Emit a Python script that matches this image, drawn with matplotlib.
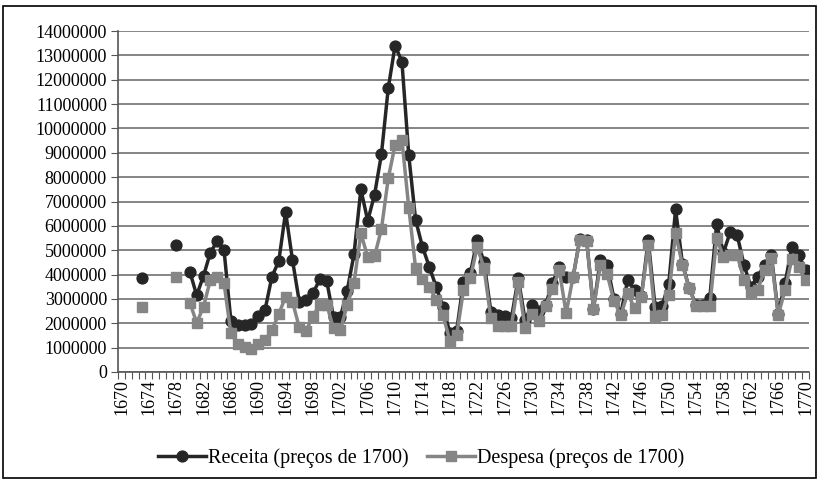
import matplotlib
matplotlib.use("Agg")
import matplotlib.pyplot as plt
import numpy as np
from matplotlib.patches import Rectangle

years = list(range(1670, 1771))

receita_m = {
    1673: 3.85, 1678: 5.2,
    1680: 4.12, 1681: 3.15, 1682: 3.95, 1683: 4.9, 1684: 5.37, 1685: 5.0, 1686: 2.1, 1687: 1.92,
    1688: 1.92, 1689: 1.98, 1690: 2.28, 1691: 2.56, 1692: 3.92, 1693: 4.55, 1694: 6.57, 1695: 4.6,
    1696: 2.88, 1697: 2.95, 1698: 3.24, 1699: 3.8, 1700: 3.75, 1701: 2.25, 1702: 2.25, 1703: 3.34,
    1704: 4.84, 1705: 7.5, 1706: 6.21, 1707: 7.28, 1708: 8.93, 1709: 11.65, 1710: 13.4, 1711: 12.74,
    1712: 8.9, 1713: 6.24, 1714: 5.14, 1715: 4.32, 1716: 3.5, 1717: 2.68, 1718: 1.62, 1719: 1.7,
    1720: 3.7, 1721: 4.05, 1722: 5.4, 1723: 4.5, 1724: 2.48, 1725: 2.34, 1726: 2.3, 1727: 2.2,
    1728: 3.85, 1729: 2.13, 1730: 2.75, 1731: 2.5, 1732: 2.75, 1733: 3.66, 1734: 4.32, 1735: 3.9,
    1736: 3.88, 1737: 5.45, 1738: 5.4, 1739: 2.6, 1740: 4.6, 1741: 4.38, 1742: 3.0, 1743: 2.4,
    1744: 3.78, 1745: 3.37, 1746: 3.1, 1747: 5.42, 1748: 2.68, 1749: 2.7, 1750: 3.61, 1751: 6.68,
    1752: 4.45, 1753: 3.43, 1754: 2.75, 1755: 2.75, 1756: 3.05, 1757: 6.07, 1758: 4.9, 1759: 5.76,
    1760: 5.62, 1761: 4.4, 1762: 3.5, 1763: 3.91, 1764: 4.4, 1765: 4.8, 1766: 2.4, 1767: 3.64,
    1768: 5.15, 1769: 4.8, 1770: 4.19,
}

despesa_m = {
    1673: 2.68, 1678: 3.89,
    1680: 2.85, 1681: 2.02, 1682: 2.68, 1683: 3.78, 1684: 3.9, 1685: 3.64, 1686: 1.59, 1687: 1.15,
    1688: 1.04, 1689: 0.95, 1690: 1.15, 1691: 1.31, 1692: 1.72, 1693: 2.38, 1694: 3.09, 1695: 2.89,
    1696: 1.83, 1697: 1.7, 1698: 2.3, 1699: 2.77, 1700: 2.77, 1701: 1.79, 1702: 1.72, 1703: 2.75,
    1704: 3.67, 1705: 5.69, 1706: 4.73, 1707: 4.76, 1708: 5.86, 1709: 7.95, 1710: 9.32, 1711: 9.52,
    1712: 6.75, 1713: 4.26, 1714: 3.8, 1715: 3.5, 1716: 2.96, 1717: 2.34, 1718: 1.29, 1719: 1.52,
    1720: 3.37, 1721: 3.85, 1722: 5.14, 1723: 4.26, 1724: 2.2, 1725: 1.9, 1726: 1.88, 1727: 1.88,
    1728: 3.7, 1729: 1.8, 1730: 2.4, 1731: 2.1, 1732: 2.72, 1733: 3.4, 1734: 4.19, 1735: 2.41,
    1736: 3.88, 1737: 5.42, 1738: 5.38, 1739: 2.6, 1740: 4.39, 1741: 4.02, 1742: 2.9, 1743: 2.34,
    1744: 3.23, 1745: 2.61, 1746: 3.09, 1747: 5.21, 1748: 2.3, 1749: 2.34, 1750: 3.16, 1751: 5.69,
    1752: 4.39, 1753: 3.43, 1754: 2.7, 1755: 2.7, 1756: 2.69, 1757: 5.49, 1758: 4.73, 1759: 4.8,
    1760: 4.8, 1761: 3.78, 1762: 3.3, 1763: 3.37, 1764: 4.19, 1765: 4.67, 1766: 2.34, 1767: 3.37,
    1768: 4.65, 1769: 4.3, 1770: 3.78,
}

y_ticks = list(range(0, 14000001, 1000000))
x_tick_labels = [str(y) for y in range(1670, 1771, 4)]

receita = np.array([receita_m.get(y, np.nan) for y in years]) * 1e6
despesa = np.array([despesa_m.get(y, np.nan) for y in years]) * 1e6

plt.rcParams['font.family'] = ['Liberation Serif', 'DejaVu Serif']

W, H = 819, 482
fig = plt.figure(figsize=(W / 100, H / 100), dpi=100)
fig.patches.append(Rectangle((3 / W, 4 / H), (W - 6) / W, (H - 10) / H, transform=fig.transFigure,
                             fill=False, edgecolor='black', linewidth=1.2))

ax = fig.add_axes([118 / W, (H - 372) / H, (809 - 118) / W, (372 - 31) / H])
x = np.array(years)
c_rec = '#262626'
c_des = '#858585'
ax.plot(x, receita, color=c_rec, lw=2.5, marker='o', ms=7.8, mfc=c_rec, mec=c_rec, zorder=3,
        label='Receita (preços de 1700)')
ax.plot(x, despesa, color=c_des, lw=2.5, marker='s', ms=7.0, mfc=c_des, mec=c_des, zorder=4,
        label='Despesa (preços de 1700)')

ax.set_xlim(1669.5, 1770.5)
ax.set_ylim(0, 14000000)
ax.set_yticks(y_ticks)
ax.set_yticklabels([str(v) for v in y_ticks], fontsize=13)
ax.set_xticks(list(range(1670, 1771, 4)))
ax.set_xticklabels(x_tick_labels, rotation=90, fontsize=13)
ax.set_xticks(np.arange(1669.5, 1771, 1), minor=True)
ax.tick_params(axis='x', which='major', length=0, pad=5)
ax.tick_params(axis='x', which='minor', length=5, width=0.8, color='#555555', direction='out')
ax.tick_params(axis='y', length=5, width=0.8, color='#555555', direction='out', pad=3)
ax.grid(axis='y', color='#858585', lw=1.4, zorder=0)
ax.set_axisbelow(True)
for s in ['top', 'right']:
    ax.spines[s].set_visible(False)
ax.spines['left'].set_color('#555555')
ax.spines['bottom'].set_color('#555555')
ax.spines['left'].set_linewidth(1.2)
ax.spines['bottom'].set_linewidth(1.2)

fig.legend(loc='center', bbox_to_anchor=(421 / W, 1 - 458 / H), ncol=2, frameon=False,
           fontsize=14.5, handlelength=2.4, handletextpad=0.1, columnspacing=0.9)

fig.savefig('out.png', dpi=100)
